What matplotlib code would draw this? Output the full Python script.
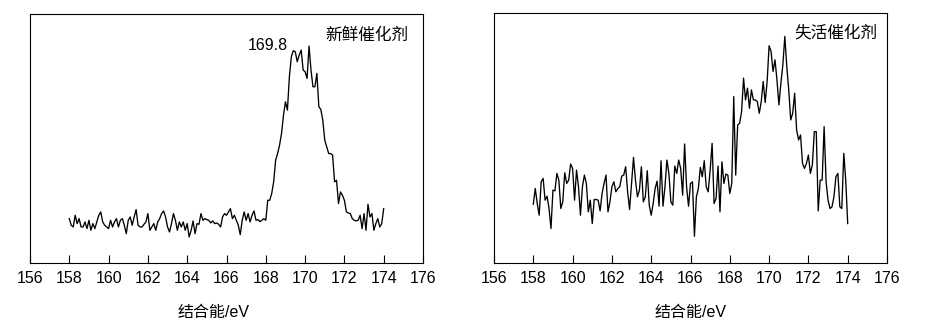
import numpy as np
import matplotlib
matplotlib.use("Agg")
import matplotlib.pyplot as plt

plt.rcParams['font.family'] = ['Liberation Sans', 'Noto Sans CJK SC', 'DejaVu Sans']

# 结合能, 158-174 eV, 步长 0.1 eV
energy = np.round(np.arange(158.0, 174.05, 0.1), 1)

# 新鲜催化剂 强度 (任意单位)
fresh = [133, 113, 108, 143, 118, 133, 108, 108, 123, 103,
         128, 98, 118, 103, 123, 143, 153, 123, 113, 108,
         103, 128, 108, 123, 133, 108, 128, 133, 113, 88,
         128, 138, 113, 138, 160, 113, 108, 108, 116, 123,
         148, 98, 108, 118, 98, 123, 133, 148, 156, 138,
         108, 93, 118, 148, 128, 98, 123, 108, 123, 98,
         118, 78, 98, 126, 88, 118, 116, 148, 128, 133,
         130, 128, 120, 126, 118, 120, 116, 108, 138, 148,
         143, 153, 163, 133, 143, 128, 113, 85, 128, 153,
         128, 148, 123, 143, 156, 128, 130, 124, 128, 133,
         128, 188, 188, 208, 243, 308, 328, 353, 388, 443,
         483, 458, 558, 618, 636, 633, 603, 623, 638, 578,
         573, 553, 650, 578, 528, 528, 568, 468, 460, 428,
         368, 348, 328, 328, 323, 243, 248, 178, 213, 203,
         188, 153, 150, 148, 133, 128, 126, 128, 143, 103,
         148, 98, 176, 138, 148, 98, 118, 133, 108, 118,
         163]

# 失活催化剂 强度 (任意单位)
spent = [176, 223, 178, 143, 243, 253, 188, 200, 163, 103,
         218, 216, 268, 248, 163, 183, 270, 238, 248, 296,
         283, 188, 278, 228, 143, 228, 263, 238, 153, 188,
         118, 190, 190, 188, 156, 208, 238, 263, 153, 183,
         228, 243, 213, 223, 228, 260, 263, 288, 213, 160,
         238, 316, 248, 198, 218, 288, 183, 198, 276, 173,
         143, 178, 223, 245, 170, 306, 170, 228, 308, 268,
         183, 173, 290, 268, 308, 283, 203, 356, 228, 170,
         238, 243, 80, 198, 223, 286, 258, 306, 228, 213,
         278, 358, 178, 193, 290, 153, 303, 238, 266, 263,
         208, 238, 498, 263, 413, 418, 453, 553, 488, 523,
         463, 518, 488, 488, 483, 448, 483, 543, 480, 543,
         650, 633, 573, 608, 548, 473, 538, 593, 678, 588,
         518, 428, 448, 508, 398, 368, 383, 298, 283, 298,
         323, 268, 293, 393, 393, 156, 248, 248, 408, 243,
         188, 163, 168, 198, 258, 268, 168, 163, 328, 248,
         118]

xticks = [156, 158, 160, 162, 164, 166, 168, 170, 172, 174, 176]
xlabel = '结合能/eV'

fig = plt.figure(figsize=(9.26, 3.24), dpi=100)
ax1 = fig.add_axes([30/926, 61/324, 393/926, 249/324])
ax2 = fig.add_axes([494/926, 61/324, 393/926, 250/324])

for ax, y, top, name, tx, ty in [(ax1, fresh, 746, '新鲜催化剂', 0.962, 0.912),
                                  (ax2, spent, 748, '失活催化剂', 0.975, 0.92)]:
    ax.plot(energy, y, color='black', lw=0.95)
    ax.set_xlim(156, 176)
    ax.set_ylim(0, top)
    ax.set_xticks(xticks)
    ax.set_yticks([])
    ax.tick_params(axis='x', direction='in', length=5.5, width=0.8,
                   pad=6, labelsize=11.5)
    for s in ax.spines.values():
        s.set_linewidth(0.8)
    ax.text(tx, ty, name, transform=ax.transAxes, ha='right', va='center',
            fontsize=12, family=['Noto Sans CJK SC', 'DejaVu Sans'])
    ax.set_xlabel(xlabel, fontsize=11.5, labelpad=8,
                  family=['Liberation Sans', 'Noto Sans CJK SC'])

ax1.xaxis.set_label_coords(0.468, -0.17)
ax2.xaxis.set_label_coords(0.5, -0.17)
ax1.text(169.1, 653, '169.8', ha='right', va='center', fontsize=11.5)

fig.savefig('out.png', dpi=100)
